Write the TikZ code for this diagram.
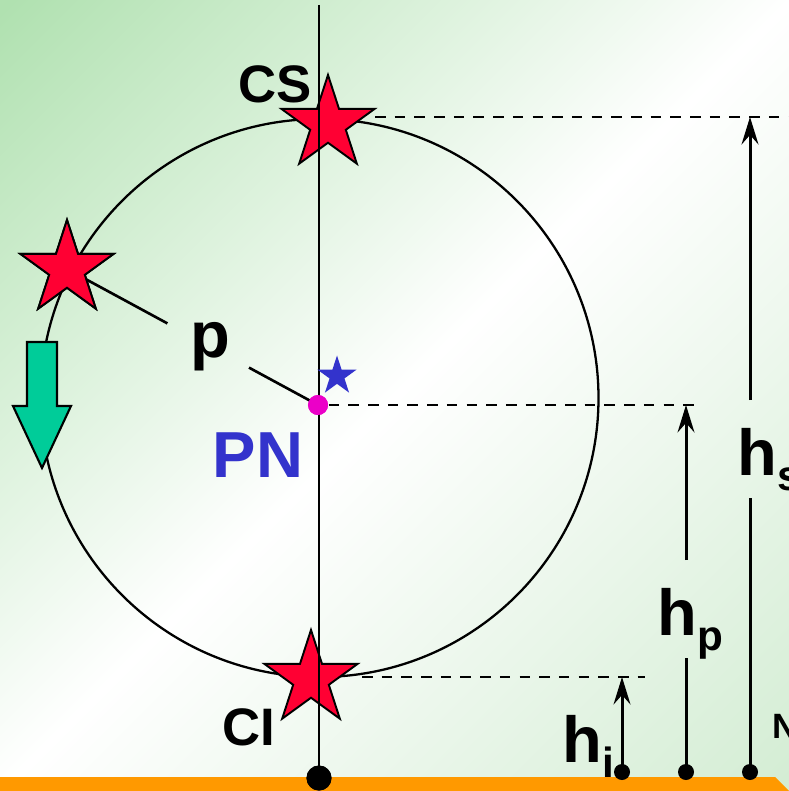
\documentclass[tikz,border=0pt]{standalone}
\usepackage{fontspec}
\setmainfont{Liberation Sans}
\usetikzlibrary{shapes.geometric,arrows.meta,calc}

\definecolor{starred}{RGB}{255,0,51}
\definecolor{pnblue}{RGB}{51,51,204}
\definecolor{pnpink}{RGB}{235,0,200}
\definecolor{arrowgreen}{RGB}{0,204,153}
\definecolor{groundorange}{RGB}{255,153,0}
\definecolor{bgleft}{RGB}{176,225,176}
\definecolor{bgright}{RGB}{212,237,212}
\pgfdeclareverticalshading{bgshade}{100bp}{color(0bp)=(bgright); color(15bp)=(bgright); color(50bp)=(white); color(85bp)=(bgleft); color(100bp)=(bgleft)}

\newcommand{\hsub}[1]{h\raisebox{-4.3pt}{\fontsize{12}{12}\selectfont #1}}

\tikzset{
  bigstar/.style={star, star points=5, star point ratio=2.618, draw=black, line width=0.55pt, fill=starred, inner sep=0pt, minimum size=0.98cm},
  lbl/.style={font=\bfseries\fontsize{18.5}{18.5}\selectfont, inner sep=0pt},
  smalllbl/.style={font=\bfseries\fontsize{15}{15}\selectfont, inner sep=0pt},
  dimline/.style={line width=0.85pt},
  guide/.style={line width=0.6pt, dash pattern=on 3pt off 2.6pt},
  footdot/.style={circle, fill=black, inner sep=0pt, minimum size=0.16cm},
}

\begin{document}
\begin{tikzpicture}[x=0.01cm,y=-0.01cm,>={Stealth[length=7.8pt,width=4.8pt,inset=2.7pt]}]
  \useasboundingbox (0,0) rectangle (789,791);
  % background and ground
  \shade[shading=bgshade, shading angle=45] (0,0) rectangle (789,791);
  \fill[groundorange] (0,777) -- (775,777) -- (789,791) -- (0,791) -- cycle;
  % orbit
  \draw[line width=0.65pt] (319.5,398) circle (279);
  % points on the orbit
  \node[circle, fill=pnpink, inner sep=0pt, minimum size=0.2cm] (pn) at (318,405) {};
  \node[footdot, minimum size=0.25cm] (o) at (319,778) {};
  \coordinate (top) at (319,5);
  % level lines
  \coordinate (csr) at (375,117);
  \coordinate (csend) at (789,117);
  \coordinate (pnend) at (702,405);
  \coordinate (cir) at (362,677);
  \coordinate (ciend) at (645,677);
  \draw[guide] (csr) -- (csend);
  \draw[guide] (pn.east) -- (pnend);
  \draw[guide] (cir) -- (ciend);
  % radius p
  \node[bigstar] (pstar) at (67,269) {};
  \draw[line width=0.75pt] (pstar.center) -- ($(pstar.center)!0.40!(pn.center)$);
  \draw[line width=0.75pt] ($(pstar.center)!0.725!(pn.center)$) -- (pn.center);
  \node[lbl] (plbl) at ($(pstar.center)!0.57!(pn.center)$) {p};
  \node[bigstar] at (67,269) {};
  % direction of motion
  \draw[fill=arrowgreen, line width=0.6pt] (27,342) -- (57,342) -- (57,406) -- (71,406) -- (42,468) -- (13,406) -- (27,406) -- cycle;
  % culminations
  \node[bigstar] (cs) at (328,124) {};
  \node[bigstar] (ci) at (311,679) {};
  \draw[line width=0.8pt] (top) -- (o.center);
  \node[footdot, minimum size=0.25cm] at (319,778) {};
  \node[star, star points=5, star point ratio=2.618, fill=pnblue, inner sep=0pt, minimum size=0.41cm] (bstar) at (337,376) {};
  \node[circle, fill=pnpink, inner sep=0pt, minimum size=0.2cm] at (318,405) {};
  \node[smalllbl, anchor=base] (cslbl) at (275,103) {CS};
  \node[smalllbl, anchor=base] (cilbl) at (249,745) {CI};
  \node[lbl, anchor=base, text=pnblue] (pnlbl) at (258,477) {PN};
  % heights
  \node[footdot] (di) at (622,772) {};
  \node[footdot] (dp) at (686,772) {};
  \node[footdot] (ds) at (750,772) {};
  \coordinate (ti) at (622,677);
  \coordinate (hpbot) at (686,658);
  \coordinate (hptop) at (686,560);
  \coordinate (tp) at (686,405);
  \coordinate (hsbot) at (750,498);
  \coordinate (hstop) at (750,400);
  \coordinate (ts) at (750,117);
  \draw[dimline,->] (di.center) -- (ti);
  \draw[dimline] (dp.center) -- (hpbot);
  \draw[dimline,->] (hptop) -- (tp);
  \draw[dimline] (ds.center) -- (hsbot);
  \draw[dimline,->] (hstop) -- (ts);
  \node[lbl, anchor=base west] (hilbl) at (562,762) {\hsub{i}};
  \node[lbl, anchor=base west] (hplbl) at (657,635) {\hsub{p}};
  \node[lbl, anchor=base west] (hslbl) at (737,475) {\hsub{s}};
  \node[anchor=base west, inner sep=0pt, font=\bfseries\fontsize{10}{10}\selectfont] (nlbl) at (772,738) {N};
\end{tikzpicture}
\end{document}
